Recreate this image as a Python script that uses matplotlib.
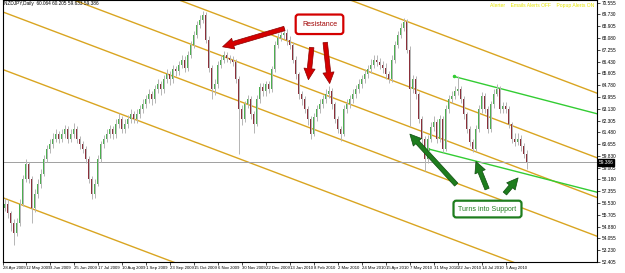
import matplotlib
matplotlib.use("Agg")
import matplotlib.pyplot as plt
import numpy as np

plt.rcParams['font.family'] = ['Liberation Sans', 'DejaVu Sans']

# NZDJPY daily (2-day candles, open = previous close)
first_open = 56.20
close = [56.49, 55.80, 55.10, 54.41, 55.10, 56.49, 58.23, 59.27, 58.23, 56.15,
         57.19, 57.88, 58.58, 59.62, 60.32, 60.66, 61.01, 61.36, 61.01, 61.36,
         61.71, 61.01, 61.36, 61.71, 61.01, 60.66, 60.32, 59.62, 58.23, 57.19,
         57.88, 59.62, 60.66, 61.01, 61.36, 61.71, 61.36, 62.05, 62.40, 61.71,
         62.05, 62.40, 62.75, 62.40, 62.75, 63.10, 63.44, 63.79, 64.14, 63.79,
         64.49, 64.83, 64.49, 65.18, 65.53, 65.18, 65.88, 65.74, 66.22, 66.57,
         66.01, 66.92, 67.61, 68.31, 69.00, 69.35, 69.70, 67.96, 66.01, 64.49,
         64.83, 66.22, 66.57, 66.92, 66.71, 66.57, 66.43, 65.18, 63.10, 62.40,
         63.44, 63.79, 62.75, 62.05, 63.79, 64.63, 64.35, 64.83, 64.49, 65.88,
         67.61, 68.10, 68.31, 68.45, 67.96, 67.61, 66.57, 65.53, 64.14, 63.79,
         63.10, 62.40, 61.36, 62.54, 63.10, 63.44, 63.79, 64.14, 64.35, 63.44,
         62.40, 61.71, 61.36, 63.10, 63.44, 63.79, 64.14, 64.49, 64.83, 65.18,
         65.53, 65.88, 66.22, 66.57, 66.43, 66.22, 66.01, 65.53, 65.18, 66.57,
         67.61, 68.31, 68.80, 69.21, 67.27, 64.49, 65.18, 64.14, 62.40, 61.01,
         59.62, 61.01, 61.85, 62.19, 61.01, 62.40, 60.32, 63.10, 63.79, 64.00,
         64.35, 64.49, 63.79, 62.75, 61.71, 60.80, 60.32, 61.71, 63.10, 64.00,
         63.10, 61.71, 63.44, 64.14, 64.49, 63.10, 63.30, 63.10, 62.05, 61.01,
         60.80, 61.01, 60.52, 59.97, 59.39]
high = [56.90, 56.80, 56.00, 55.40, 55.50, 56.80, 58.50, 59.60, 59.40, 58.40,
        57.50, 58.20, 58.90, 59.90, 60.60, 61.00, 61.40, 61.70, 61.60, 61.70,
        62.00, 61.90, 61.70, 62.10, 61.90, 61.20, 60.90, 60.50, 59.80, 58.40,
        58.20, 59.90, 60.90, 61.30, 61.70, 62.00, 61.90, 62.40, 62.80, 62.60,
        62.40, 62.70, 63.10, 63.00, 63.10, 63.40, 63.80, 64.10, 64.50, 64.40,
        64.80, 65.20, 65.10, 65.50, 65.90, 65.80, 66.20, 66.10, 66.50, 66.90,
        66.80, 67.20, 67.90, 68.60, 69.30, 69.70, 69.95, 69.90, 68.20, 66.20,
        65.20, 66.50, 66.90, 67.20, 67.10, 66.90, 66.80, 66.60, 65.40, 63.40,
        63.70, 64.10, 64.00, 63.00, 64.10, 64.90, 64.90, 65.10, 65.10, 66.10,
        67.90, 68.40, 68.60, 68.80, 68.70, 68.20, 67.80, 66.80, 65.70, 64.40,
        64.00, 63.30, 62.60, 62.80, 63.40, 63.80, 64.10, 64.50, 64.70, 64.60,
        63.60, 62.60, 61.90, 63.40, 63.80, 64.10, 64.50, 64.80, 65.20, 65.50,
        65.90, 66.20, 66.60, 66.90, 66.90, 66.70, 66.50, 66.30, 65.80, 66.90,
        67.90, 68.60, 69.10, 69.50, 69.40, 67.50, 65.50, 65.40, 64.30, 62.60,
        61.20, 61.30, 62.20, 62.60, 62.40, 62.70, 62.60, 63.40, 64.10, 64.40,
        64.70, 65.40, 64.70, 64.00, 62.90, 61.90, 61.00, 62.00, 63.40, 64.30,
        64.20, 63.30, 63.70, 64.50, 64.85, 64.70, 63.60, 63.60, 63.30, 62.20,
        61.40, 61.40, 61.30, 60.70, 60.21]
low = [55.95, 55.50, 54.60, 53.60, 54.20, 54.90, 56.30, 58.00, 57.90, 55.10,
       55.90, 56.90, 57.60, 58.40, 59.40, 60.00, 60.40, 60.80, 60.70, 60.80,
       61.10, 60.70, 60.80, 61.10, 60.70, 60.30, 60.00, 59.30, 57.90, 56.80,
       56.90, 57.70, 59.40, 60.40, 60.80, 61.10, 61.00, 61.10, 61.80, 61.40,
       61.40, 61.80, 62.10, 62.10, 62.10, 62.50, 62.80, 63.20, 63.50, 63.40,
       63.50, 64.20, 64.10, 64.20, 64.90, 64.80, 64.90, 65.40, 65.50, 66.00,
       65.70, 65.80, 66.70, 67.40, 68.10, 68.80, 69.10, 67.70, 65.70, 63.80,
       64.10, 64.60, 66.00, 66.30, 66.40, 66.30, 66.10, 64.90, 59.97, 62.00,
       62.20, 63.20, 62.40, 61.40, 61.90, 63.50, 64.00, 64.00, 64.20, 64.30,
       65.70, 67.40, 67.90, 68.00, 67.60, 67.30, 66.30, 65.20, 63.80, 63.40,
       62.80, 62.00, 61.00, 61.20, 62.30, 62.80, 63.20, 63.50, 63.90, 63.10,
       62.10, 61.40, 60.90, 61.20, 62.80, 63.20, 63.50, 63.90, 64.20, 64.60,
       64.90, 65.30, 65.60, 66.00, 66.10, 65.90, 65.60, 65.20, 64.90, 65.00,
       66.30, 67.40, 68.10, 68.60, 67.00, 61.90, 64.20, 63.80, 62.10, 60.60,
       58.80, 59.30, 60.80, 61.60, 60.70, 60.80, 60.10, 60.20, 62.80, 63.50,
       63.80, 64.10, 63.50, 62.40, 61.40, 60.50, 60.10, 60.20, 61.50, 62.80,
       62.80, 61.40, 61.50, 63.20, 64.00, 62.80, 62.80, 62.80, 61.80, 60.70,
       60.50, 60.60, 60.20, 59.70, 58.93]
last_price = 59.386

date_labels = ["28 Apr 2009", "12 May 2009", "3 Jun 2009", "25 Jun 2009", "17 Jul 2009",
               "10 Aug 2009", "1 Sep 2009", "23 Sep 2009", "15 Oct 2009", "6 Nov 2009",
               "30 Nov 2009", "22 Dec 2009", "13 Jan 2010", "8 Feb 2010", "2 Mar 2010",
               "24 Mar 2010", "15 Apr 2010", "7 May 2010", "31 May 2010", "22 Jun 2010",
               "14 Jul 2010", "5 Aug 2010"]
price_labels = ["70.555", "69.730", "68.905", "68.080", "67.255", "66.430", "65.605",
                "64.780", "63.955", "63.130", "62.305", "61.480", "60.655", "59.830",
                "59.005", "58.180", "57.355", "56.530", "55.705", "54.880", "54.055",
                "53.230", "52.405"]

# hand drawn trend lines: (start index, start price, end index, end price)
channel_lines = [(0, 79.87, 197.5, 64.22),
                 (0, 75.35, 197.5, 59.70),
                 (0, 72.57, 197.5, 56.92),
                 (0, 69.86, 197.5, 54.21),
                 (0, 65.83, 197.5, 50.18),
                 (0, 56.86, 197.5, 41.21)]
green_lines = [(149.8, 65.39, 197.5, 62.78),
               (141.2, 60.32, 197.5, 57.29)]

opn = [first_open] + close[:-1]
x = np.arange(len(close))
o = np.array(opn)
c = np.array(close)
up = c >= o

fig = plt.figure(figsize=(6.25, 2.73), dpi=100)
ax = fig.add_axes([3 / 625, 11 / 273, 594 / 625, 262 / 273])

# channel + trend lines
for x0, y0, x1, y1 in channel_lines:
    ax.plot([x0, x1], [y0, y1], color="#d9a521", lw=1.0, zorder=1)
for x0, y0, x1, y1 in green_lines:
    ax.plot([x0, x1], [y0, y1], color="#33cc33", lw=1.0, zorder=1)
    ax.plot([x0], [y0], "o", ms=1.5, color="#33cc33", zorder=1)

ax.axhline(last_price, color="#a0a0a0", lw=0.7, zorder=1)

# candles
ax.vlines(x, low, high, color="#b5b5b5", lw=0.7, zorder=2)
body_lo = np.minimum(o, c)
body_h = np.maximum(np.abs(c - o), 0.05)
ax.bar(x[up], body_h[up], bottom=body_lo[up], width=0.55, color="#4caf50", lw=0, zorder=3)
ax.bar(x[~up], body_h[~up], bottom=body_lo[~up], width=0.55, color="#8b2f3a", lw=0, zorder=3)

ax.set_xlim(-0.5, 197.5)
ax.set_ylim(52.53, 70.74)

# axes look (MT4 style)
for s in ax.spines.values():
    s.set_color("black")
    s.set_linewidth(0.8)
tick_pos = [-0.5] + [7 + 8 * k for k in range(len(date_labels) - 1)]
ax.set_xticks(tick_pos)
ax.set_xticklabels(date_labels, fontsize=3.1, ha="left")
ax.tick_params(axis="x", length=2, width=0.5, pad=1)
ax.yaxis.tick_right()
ax.set_yticks([float(v) for v in price_labels])
ax.set_yticklabels(price_labels, fontsize=3.4)
ax.tick_params(axis="y", length=2, width=0.5, pad=1.5)

ax.text(1.003, last_price, "59.386", transform=ax.get_yaxis_transform(), fontsize=3.4,
        color="white", va="center", ha="left",
        bbox=dict(boxstyle="square,pad=0.2", fc="black", ec="black"))

# header texts
fig.text(4 / 625, 1 - 4 / 273, "NZDJPY,Daily  60.064 60.205 59.633 59.386",
         fontsize=3.4, va="center", ha="left")
fig.text(594 / 625, 1 - 6 / 273, "Alerter    Emails Alerts OFF    Popup Alerts ON",
         fontsize=3.6, va="center", ha="right", color="#e6e600")

# resistance annotation
red = "#d40000"
for tail, head in [((94.2, 68.80), (71.8, 67.41)),
                   ((102.5, 67.61), (101.2, 64.97)),
                   ((106.8, 67.96), (108.5, 64.70))]:
    ax.annotate("", xy=head, xytext=tail,
                arrowprops=dict(arrowstyle="simple,head_width=8,head_length=8,tail_width=3.2",
                                mutation_scale=1, fc=red, ec="#8b0000", lw=0.5), zorder=6)
ax.text(105.0, 69.04, "Resistance", fontsize=5.0, color="#a00000", ha="center", va="center",
        zorder=7, bbox=dict(boxstyle="round,pad=0.9,rounding_size=0.4", fc="white", ec=red, lw=1.6))

# support annotation
green = "#1e7d1e"
for tail, head in [((151.2, 57.68), (134.5, 61.50)),
                   ((161.2, 57.33), (156.8, 59.62)),
                   ((166.2, 57.05), (171.8, 58.44))]:
    ax.annotate("", xy=head, xytext=tail,
                arrowprops=dict(arrowstyle="simple,head_width=8,head_length=8,tail_width=3.2",
                                mutation_scale=1, fc=green, ec="#0d4d0d", lw=0.5), zorder=6)
ax.text(161.0, 56.11, "Turns into Support", fontsize=5.0, color=green, ha="center", va="center",
        zorder=7, bbox=dict(boxstyle="round,pad=0.7,rounding_size=0.4", fc="white", ec=green, lw=1.6))

fig.savefig("out.png", dpi=100)
